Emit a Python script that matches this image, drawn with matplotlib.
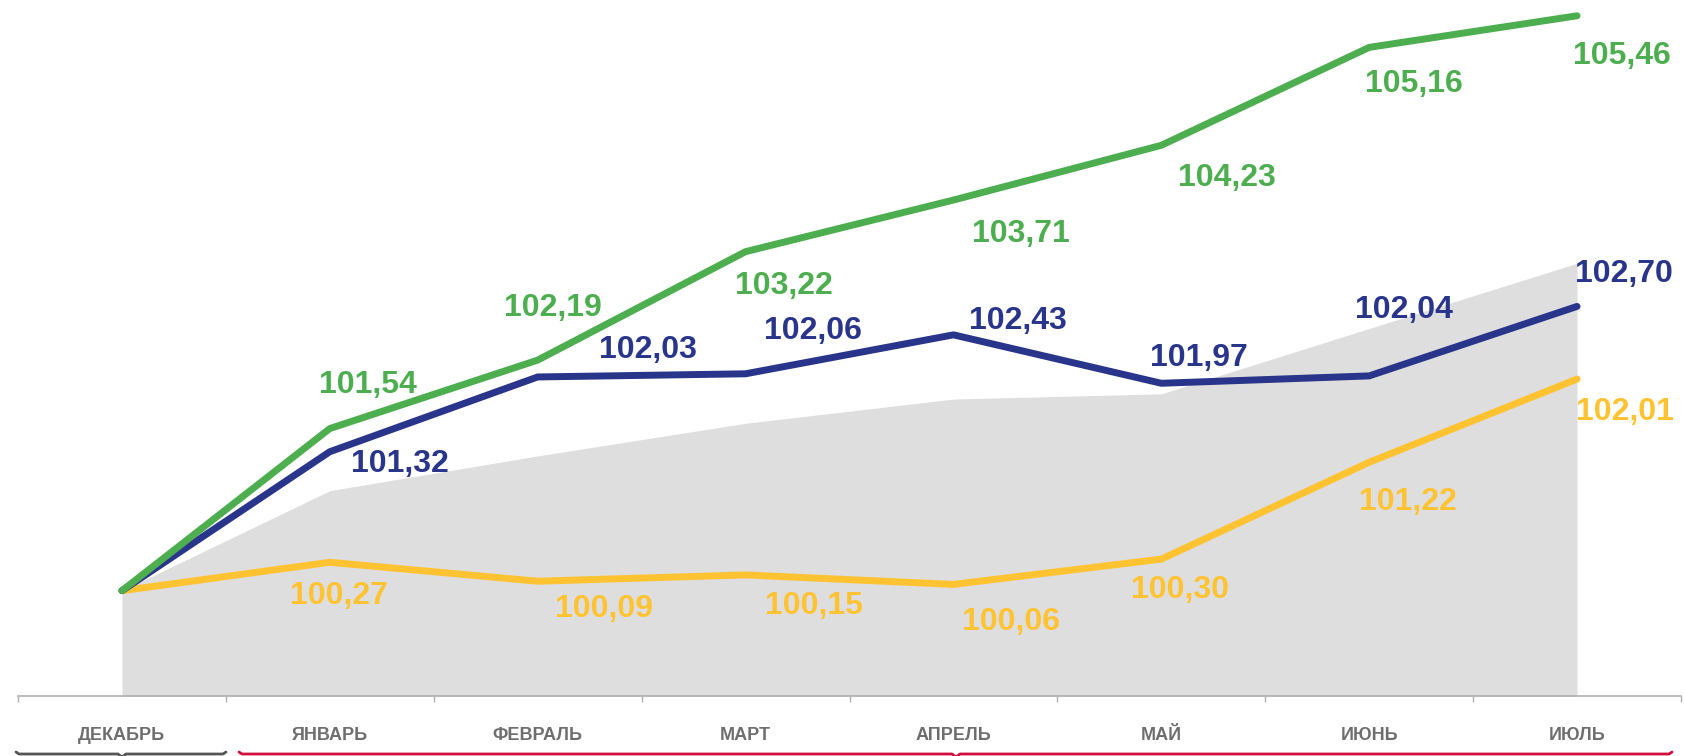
import matplotlib
matplotlib.use("Agg")
import matplotlib.pyplot as plt
from matplotlib.lines import Line2D

plt.rcParams['font.family'] = ['Liberation Sans', 'DejaVu Sans']

months = ["ДЕКАБРЬ", "ЯНВАРЬ", "ФЕВРАЛЬ", "МАРТ", "АПРЕЛЬ", "МАЙ", "ИЮНЬ", "ИЮЛЬ"]
green_vals = [100.00, 101.54, 102.19, 103.22, 103.71, 104.23, 105.16, 105.46]
blue_vals = [100.00, 101.32, 102.03, 102.06, 102.43, 101.97, 102.04, 102.70]
yellow_vals = [100.00, 100.27, 100.09, 100.15, 100.06, 100.30, 101.22, 102.01]
gray_vals = [100.00, 100.95, 101.28, 101.59, 101.82, 101.87, 102.49, 103.11]

GREEN = "#4DAE4F"
BLUE = "#29358A"
YELLOW = "#FFC332"
GRAY_FILL = "#DEDEDE"

W, H = 1684, 756
fig = plt.figure(figsize=(W / 100, H / 100), dpi=100)
ax = fig.add_axes([18 / W, 60 / H, (1681 - 18) / W, (H - 60) / H])
ax.set_xlim(-0.5, 7.5)
ax.set_ylim(99.0, 105.61)

x = list(range(len(months)))
ax.fill_between(x, 99.0, gray_vals, color=GRAY_FILL, lw=0, zorder=1)
ax.plot(x, yellow_vals, color=YELLOW, lw=5, solid_capstyle='round', solid_joinstyle='round', zorder=3)
ax.plot(x, blue_vals, color=BLUE, lw=5, solid_capstyle='round', solid_joinstyle='round', zorder=4)
ax.plot(x, green_vals, color=GREEN, lw=5, solid_capstyle='round', solid_joinstyle='round', zorder=5)

# label offsets in pixels (dx, dy up)
green_off = [None, (38, 44), (15, 52), (38, -34), (67, -34), (66, -33), (45, -37), (45, -40)]
blue_off = [None, (70, -12), (110, 27), (67, 43), (64, 14), (38, 25), (35, 66), (47, 32)]
yellow_off = [None, (9, -34), (66, -28), (68, -31), (58, -38), (19, -31), (39, -40), (48, -33)]

def fmt(v):
    return f"{v:.2f}".replace('.', ',')

for vals, offs, col in [(green_vals, green_off, GREEN), (blue_vals, blue_off, BLUE),
                        (yellow_vals, yellow_off, YELLOW)]:
    for i, (v, o) in enumerate(zip(vals, offs)):
        if o is None:
            continue
        ax.annotate(fmt(v), (i, v), xytext=o, textcoords='offset pixels',
                    ha='center', va='center', fontsize=23, fontweight='bold',
                    color=col, zorder=6, annotation_clip=False)

for s in ['top', 'right', 'left']:
    ax.spines[s].set_visible(False)
ax.spines['bottom'].set_color('#B0B0B0')
ax.spines['bottom'].set_linewidth(1.2)
ax.set_yticks([])
ax.set_xticks([i - 0.5 for i in range(len(months) + 1)])
ax.set_xticklabels([])
ax.tick_params(axis='x', length=4, width=1, color='#B0B0B0', direction='out')
ax.set_xticks(x, minor=True)
ax.set_xticklabels(months, minor=True)
ax.tick_params(axis='x', which='minor', length=0, pad=22, labelsize=13,
               labelcolor='#6E6E6E')
for lbl in ax.get_xticklabels(minor=True):
    lbl.set_fontweight('bold')

# braces at the bottom (cut off)
def brace(x0, x1, xc, y, color):
    xs = [x0, x0 + 3, xc - 4, xc, xc + 4, x1 - 3, x1]
    ys = [y - 2, y, y, y + 3, y, y, y - 2]
    fig.add_artist(Line2D([a / W for a in xs], [(H - b) / H for b in ys],
                          color=color, lw=2, solid_joinstyle='round',
                          solid_capstyle='round'))

brace(16, 226, 122, 754, '#555555')
brace(239, 1672, 956, 754, '#D0103A')

fig.savefig("out.png", dpi=100)
